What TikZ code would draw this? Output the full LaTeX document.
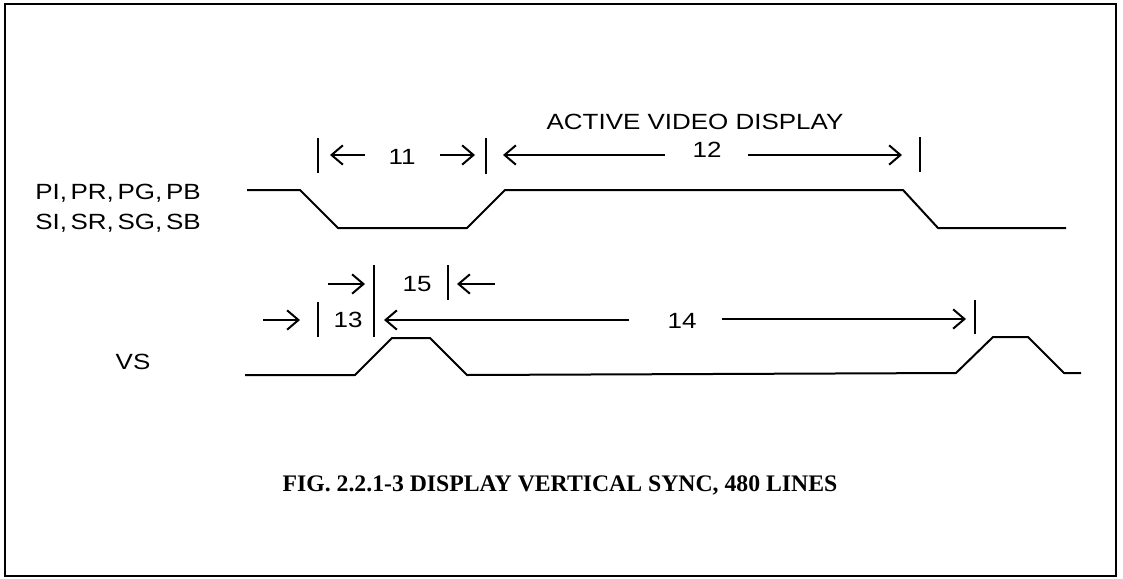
\documentclass[tikz,border=0pt]{standalone}
\usepackage{fontspec}
\setmainfont{Liberation Serif}
\newfontfamily\plotfont[FakeStretch=1.18]{Liberation Sans}
\usetikzlibrary{arrows.meta}
\tikzset{
  sig/.style={line width=1.5pt, line join=round},
  bar/.style={line width=1.3pt},
  dim/.style={line width=1.3pt, -{Straight Barb[length=8.5pt,width=14.5pt,line width=1.5pt]}},
  lbl/.style={font=\plotfont\fontsize{16.5}{19}\selectfont, inner sep=0pt},
  num/.style={font=\plotfont\fontsize{16.5}{19}\selectfont, inner sep=0pt},
  captext/.style={font=\bfseries\fontsize{17.8}{20}\selectfont, inner sep=0pt}
}
\begin{document}
\begin{tikzpicture}[x=0.75pt,y=-0.75pt]
\useasboundingbox (0,0) rectangle (1123,578);
\draw[line width=1.5pt] (5,4) rectangle (1116,576);

% signal labels
\node[lbl,anchor=west] (p) at (35,193) {PI,\,PR,\,PG,\,PB};
\node[lbl,anchor=west] (s) at (35,223) {SI,\,SR,\,SG,\,SB};
\node[lbl] (vs) at (133,362) {VS};

% upper signal
\draw[sig] (247,190) -- (300,190) -- (338,228) -- (467,228) -- (505,190) -- (903,190) -- (938,228) -- (1066,228);

% VS signal
\draw[sig] (245,375) -- (355,375) -- (392,338) -- (430,338) -- (467,375) -- (956,373) -- (993,337) -- (1028,337) -- (1064,373) -- (1081,373);

% dimension bars upper
\coordinate (b1t) at (318,138); \coordinate (b1b) at (318,173);
\coordinate (b2t) at (486,138); \coordinate (b2b) at (486,174);
\coordinate (b3t) at (920,137); \coordinate (b3b) at (920,172);
\draw[bar] (b1t) -- (b1b);
\draw[bar] (b2t) -- (b2b);
\draw[bar] (b3t) -- (b3b);

% 11
\coordinate (a11l) at (365,155); \coordinate (a11lt) at (330,155);
\coordinate (a11r) at (440,155); \coordinate (a11rt) at (475,155);
\node[num] (n11) at (402,157) {11};
\draw[dim] (a11l) -- (a11lt);
\draw[dim] (a11r) -- (a11rt);

% 12
\node[lbl] (avd) at (695,122) {ACTIVE VIDEO DISPLAY};
\node[num] (n12) at (707,150) {12};
\coordinate (a12l) at (665,155); \coordinate (a12lt) at (503,155);
\coordinate (a12r) at (748,155); \coordinate (a12rt) at (902,155);
\draw[dim] (a12l) -- (a12lt);
\draw[dim] (a12r) -- (a12rt);

% lower bars
\coordinate (c1t) at (318,302); \coordinate (c1b) at (318,337);
\coordinate (c2t) at (374,265); \coordinate (c2b) at (374,337);
\coordinate (c3t) at (448,265); \coordinate (c3b) at (448,300);
\coordinate (c4t) at (975,300); \coordinate (c4b) at (975,334);
\draw[bar] (c1t) -- (c1b);
\draw[bar] (c2t) -- (c2b);
\draw[bar] (c3t) -- (c3b);
\draw[bar] (c4t) -- (c4b);

% 15
\node[num] (n15) at (417,284) {15};
\coordinate (a15l) at (328,284); \coordinate (a15lt) at (365,284);
\coordinate (a15r) at (495,284); \coordinate (a15rt) at (457,284);
\draw[dim] (a15l) -- (a15lt);
\draw[dim] (a15r) -- (a15rt);

% 13
\node[num] (n13) at (348,320) {13};
\coordinate (a13) at (263,320); \coordinate (a13t) at (300,320);
\draw[dim] (a13) -- (a13t);

% 14
\node[num] (n14) at (682,321) {14};
\coordinate (a14l) at (629,320); \coordinate (a14lt) at (384,320);
\coordinate (a14r) at (722,319); \coordinate (a14rt) at (966,319);
\draw[dim] (a14l) -- (a14lt);
\draw[dim] (a14r) -- (a14rt);

% caption
\node[captext] (caption) at (560,485) {FIG. 2.2.1-3 DISPLAY VERTICAL SYNC, 480 LINES};
\end{tikzpicture}
\end{document}
